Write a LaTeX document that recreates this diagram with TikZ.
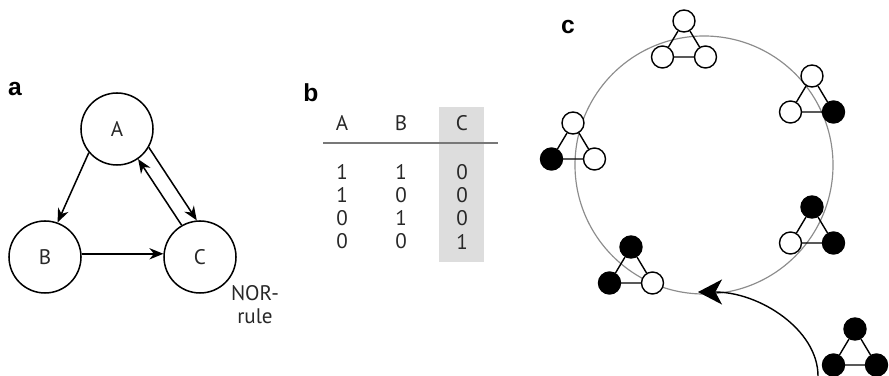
\documentclass[tikz,border=0pt]{standalone}
\usepackage{fontspec}
\setmainfont{PT Sans}
\newfontfamily\panelfont{Liberation Sans}
\usetikzlibrary{arrows.meta}
\definecolor{ringgray}{RGB}{140,140,140}
\definecolor{rulegray}{RGB}{120,120,120}
\definecolor{colgray}{RGB}{221,221,221}
\definecolor{inkgray}{RGB}{40,40,40}
\tikzset{
  panel/.style={
    font=\panelfont\bfseries\fontsize{21}{24}\selectfont,
    inner sep=0pt
  },
  state/.style={
    circle,
    draw=black,
    line width=1.3pt,
    fill=white,
    minimum size=2.16cm,
    inner sep=0pt,
    text=inkgray,
    font=\fontsize{18}{21}\selectfont
  },
  link/.style={
    line width=1.3pt,
    -{Stealth[length=0.42cm,width=0.34cm]}
  },
  cell/.style={
    inner sep=0pt,
    text=inkgray,
    font=\fontsize{18}{19.5}\selectfont
  },
  bond/.style={line width=1.2pt},
  spin-black/.style={
    circle,
    line width=1.2pt,
    fill=black,
    draw=black,
    minimum size=0.66cm,
    inner sep=0pt
  },
  spin-white/.style={
    circle,
    line width=1.2pt,
    fill=white,
    draw=black,
    minimum size=0.66cm,
    inner sep=0pt
  }
}
\newcommand{\motif}[6]{%
  \node[spin-#4] (#1-t) at (#2,#3) {};
  \node[spin-#5] (#1-l) at (#2-21.5,#3+36) {};
  \node[spin-#6] (#1-r) at (#2+21.5,#3+36) {};
  \draw[bond] (#1-t) -- (#1-l) -- (#1-r) -- (#1-t);
}

\begin{document}
\begin{tikzpicture}[x=0.03cm, y=-0.03cm]
  \useasboundingbox (0,0) rectangle (889,376);
  \node[panel] (pa) at (15,89) {a};
  \node[state] (A) at (117,129) {A};
  \node[state] (B) at (45,257) {B};
  \node[state] (C) at (200,257) {C};
  \draw[link] (A.220) -- (B.70);
  \draw[link] (A.330) -- (C.95);
  \draw[link] (C.120) -- (A.305);
  \draw[link] (B.5) -- (C.175);
  \node[cell, align=center] (nor) at (255,305) {NOR-\\rule};

  \node[panel] (pb) at (311,93) {b};
  \fill[colgray] (439,107) rectangle (484,262);
  \coordinate (rule-l) at (323,143);
  \coordinate (rule-r) at (498,143);
  \draw[rulegray, line width=1.2pt] (rule-l) -- (rule-r);
  \node[cell] (hA) at (342,123) {A};
  \node[cell] (hB) at (401,123) {B};
  \node[cell] (hC) at (462,123) {C};
  \foreach \a/\b/\c [count=\i] in {1/1/0, 1/0/0, 0/1/0, 0/0/1} {
    \node[cell] (rA\i) at (342,148.4+23.3*\i) {\a};
    \node[cell] (rB\i) at (401,148.4+23.3*\i) {\b};
    \node[cell] (rC\i) at (462,148.4+23.3*\i) {\c};
  }

  \node[panel] (pc) at (568,27) {c};
  \draw[ringgray, line width=1pt] (704,165) circle[radius=3.87cm];
  \motif{m1}{684}{21}{white}{white}{white}
  \motif{m2}{812}{76}{white}{white}{black}
  \motif{m3}{573}{123}{white}{black}{white}
  \motif{m4}{812}{207}{black}{white}{black}
  \motif{m5}{631}{247}{black}{black}{white}
  \motif{m6}{855}{329}{black}{black}{black}
  \coordinate (entry) at (818,376);
  \coordinate (tip) at (698,292);
  \draw[line width=1.2pt, -{Stealth[length=0.72cm,width=0.75cm,inset=0.2cm]}]
    (entry) .. controls (818,330) and (760,292) .. (tip);
\end{tikzpicture}
\end{document}
